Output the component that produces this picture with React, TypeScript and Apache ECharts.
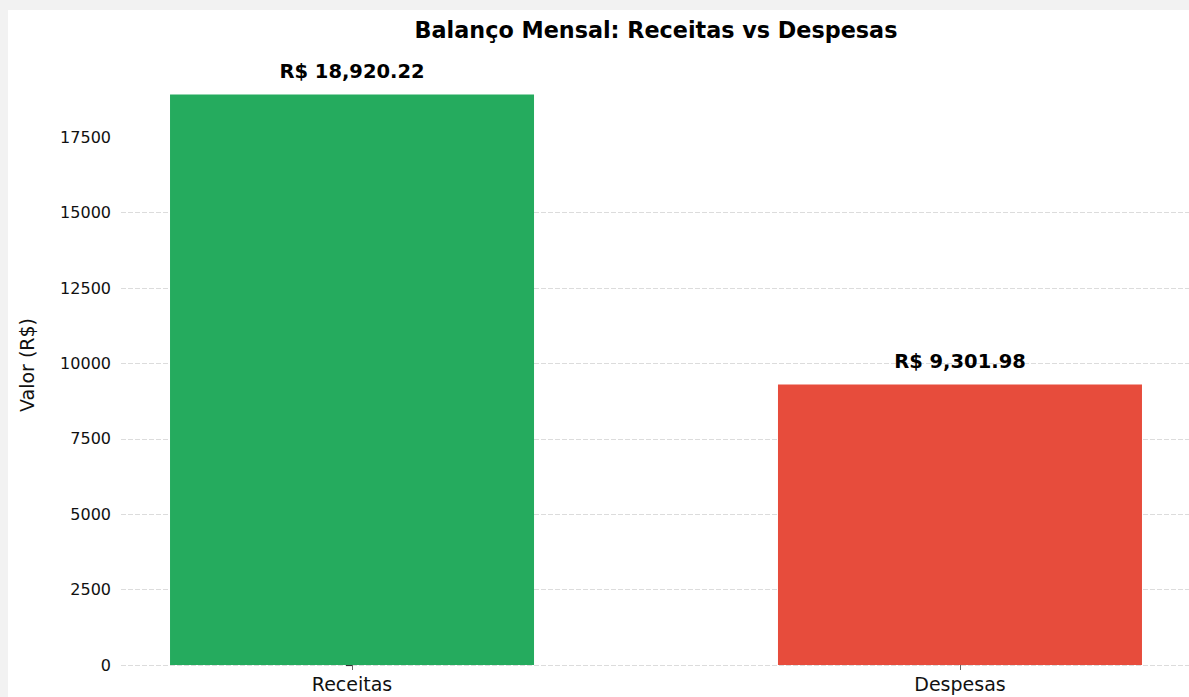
import React, { useEffect, useRef } from "react";
import * as echarts from "echarts";

const categories = ["Receitas", "Despesas"];
const values = [18920.22, 9301.98];
const barColors = ["#25ab5e", "#e74c3c"];
const yTicks = [0, 2500, 5000, 7500, 10000, 12500, 15000, 17500];
const titleText = "Balanço Mensal: Receitas vs Despesas";
const yName = "Valor (R$)";

const FONT = "DejaVu Sans";

function fmtBRL(v: number): string {
  return (
    "R$ " +
    v.toLocaleString("en-US", { minimumFractionDigits: 2, maximumFractionDigits: 2 })
  );
}

export default function App() {
  const ref = useRef<HTMLDivElement>(null);

  useEffect(() => {
    document.documentElement.style.overflow = "hidden";
    document.body.style.background = "#f2f2f2";
    document.body.style.margin = "0";
    const chart = echarts.init(ref.current!, null, { renderer: "svg" });
    const yMax = Math.max(...values) * 1.05;
    chart.setOption({
      animation: false,
      backgroundColor: "#ffffff",
      title: {
        text: titleText,
        left: "center",
        top: 4,
        textStyle: { fontFamily: FONT, fontSize: 22.3, fontWeight: "bold", color: "#000" },
      },
      graphic: [
        {
          type: "text",
          x: 19,
          y: 355,
          rotation: Math.PI / 2,
          style: {
            text: yName,
            fontFamily: FONT,
            fontSize: 19,
            fill: "#111",
            align: "center",
            verticalAlign: "middle",
          },
        },
      ],
      grid: { left: 113, top: 56, width: 1070, height: 599 },
      xAxis: {
        type: "value",
        min: -0.38,
        max: 1.38,
        axisLine: { show: false },
        splitLine: { show: false },
        axisTick: {
          show: true,
          customValues: [0, 1],
          length: 5,
          lineStyle: { color: "#666", width: 1 },
        },
        axisLabel: {
          customValues: [0, 1],
          formatter: (v: number) => categories[Math.round(v)] ?? "",
          fontFamily: FONT,
          fontSize: 19,
          color: "#111",
          margin: 9,
        },
      },
      yAxis: {
        type: "value",
        min: 0,
        max: yMax,
        interval: 2500,
        axisLine: { show: false },
        axisTick: {
          show: true,
          customValues: yTicks,
          length: 6,
          lineStyle: { color: "#333", width: 1.2 },
        },
        axisLabel: {
          customValues: yTicks,
          formatter: (v: number) => String(Math.round(v)),
          fontFamily: FONT,
          fontSize: 16,
          color: "#111",
          margin: 10,
        },
        splitLine: {
          show: true,
          showMaxLine: false,
          lineStyle: { color: "#dcdcdc", type: [5, 2], width: 1 },
        },
      },
      series: [
        {
          type: "bar",
          barWidth: 364,
          z: 3,
          data: values.map((v, i) => ({
            value: [i, v],
            itemStyle: { color: barColors[i] },
          })),
          label: {
            show: true,
            position: "top",
            distance: 13,
            formatter: (p: any) => fmtBRL(p.value[1]),
            fontFamily: FONT,
            fontSize: 19.5,
            fontWeight: "bold",
            color: "#000",
          },
        },
      ],
    });
    return () => chart.dispose();
  }, []);

  return (
    <div
      ref={ref}
      style={{ position: "absolute", left: 8, top: 10, width: 1296, height: 720 }}
    />
  );
}
